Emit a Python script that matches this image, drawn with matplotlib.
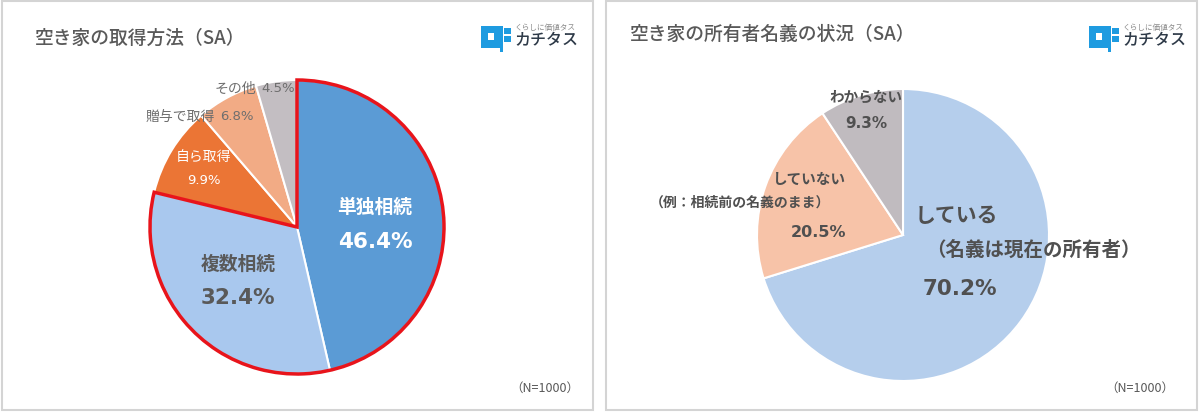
import matplotlib
matplotlib.use("Agg")
import matplotlib.pyplot as plt
from matplotlib.patches import Rectangle, Wedge

plt.rcParams['font.family'] = ['Noto Sans CJK JP', 'DejaVu Sans']
NUMFONT = ['DejaVu Sans', 'Noto Sans CJK JP']

# ---- data ----
left_title = "空き家の取得方法（SA）"
left_labels = ["単独相続", "複数相続", "自ら取得", "贈与で取得", "その他"]
left_values = [46.4, 32.4, 9.9, 6.8, 4.5]
left_colors = ["#5B9BD5", "#A9C8EE", "#EB7535", "#F2AB85", "#C3BEC2"]

right_title = "空き家の所有者名義の状況（SA）"
right_labels = ["している", "していない", "わからない"]
right_sub = ["（名義は現在の所有者）", "（例：相続前の名義のまま）", ""]
right_values = [70.2, 20.5, 9.3]
right_colors = ["#B5CEEC", "#F7C3A8", "#C0BBBF"]

n_note = "（N=1000）"

W, H = 1200, 414
fig = plt.figure(figsize=(W / 100, H / 100), dpi=100)
ax = fig.add_axes([0, 0, 1, 1])


def frame():
    ax.set_xlim(0, W)
    ax.set_ylim(0, H)
    ax.set_aspect('equal')
    ax.axis('off')


frame()


def Y(y):
    return H - y


# panels
for x0, x1 in [(2, 593), (606, 1197)]:
    ax.add_patch(Rectangle((x0, Y(411)), x1 - x0, 409, facecolor='white',
                           edgecolor='#D4D4D4', lw=1.5, zorder=0))

title_col = '#595959'
ax.text(35, Y(38), left_title, fontsize=13.5, color=title_col, va='center', ha='left', fontweight='medium')
ax.text(630, Y(34), right_title, fontsize=13.5, color=title_col, va='center', ha='left', fontweight='medium')


def logo(x, y):
    blue = '#1E9BE0'
    ax.add_patch(Rectangle((x, Y(y + 22)), 22, 22, facecolor=blue, edgecolor='none', zorder=3))
    ax.add_patch(Rectangle((x + 7, Y(y + 14)), 6, 7, facecolor='white', edgecolor='none', zorder=4))
    ax.add_patch(Rectangle((x + 23, Y(y + 16)), 7, 6, facecolor=blue, edgecolor='none', zorder=3))
    ax.add_patch(Rectangle((x + 23, Y(y + 8)), 7, 6, facecolor=blue, edgecolor='none', zorder=3))
    ax.add_patch(Rectangle((x + 19, Y(y + 26)), 3, 4, facecolor=blue, edgecolor='none', zorder=3))
    ax.text(x + 34, Y(y + 1), "くらしに価値タス", fontsize=5.5, color='#8A8A8A', va='center', ha='left')
    ax.text(x + 33, Y(y + 14), "カチタス", fontsize=11.5, color='#2E3A48', va='center', ha='left',
            fontweight='medium')


logo(481, 27)
logo(1089, 27)

# left pie
lc = (297, Y(228))
lr = 147
ax.pie(left_values, colors=left_colors, startangle=90, counterclock=False,
       center=lc, radius=lr, wedgeprops=dict(edgecolor='white', linewidth=1.5))
inh = left_values[0] + left_values[1]
tot = sum(left_values)
ax.add_patch(Wedge(lc, lr, 90 - 360 * inh / tot, 90, facecolor='none',
                   edgecolor='#E8141B', linewidth=2.5, zorder=5))
frame()

ax.text(375, Y(207), left_labels[0], fontsize=13.5, color='white', fontweight='bold', ha='center', va='center', zorder=6)
ax.text(375, Y(242), f"{left_values[0]}%", fontsize=15.5, color='white', fontweight='bold', ha='center', va='center', zorder=6, family=NUMFONT)
ax.text(238, Y(264), left_labels[1], fontsize=13.5, color='#595959', fontweight='bold', ha='center', va='center', zorder=6)
ax.text(238, Y(298), f"{left_values[1]}%", fontsize=15.5, color='#595959', fontweight='bold', ha='center', va='center', zorder=6, family=NUMFONT)
ax.text(204, Y(158), left_labels[2], fontsize=10, color='white', ha='center', va='center', zorder=6)
ax.text(204, Y(181), f"{left_values[2]}%", fontsize=9.5, color='white', ha='center', va='center', zorder=6, family=NUMFONT)
ax.text(215, Y(117), left_labels[3], fontsize=10, color='#6E6E6E', ha='right', va='center', zorder=6)
ax.text(220, Y(117), f"{left_values[3]}%", fontsize=9.5, color='#6E6E6E', ha='left', va='center', zorder=6, family=NUMFONT)
ax.text(256, Y(89), left_labels[4], fontsize=10, color='#6E6E6E', ha='right', va='center', zorder=6)
ax.text(261, Y(89), f"{left_values[4]}%", fontsize=9.5, color='#6E6E6E', ha='left', va='center', zorder=6, family=NUMFONT)

# right pie
rc = (903, Y(236))
rr = 146
ax.pie(right_values, colors=right_colors, startangle=90, counterclock=False,
       center=rc, radius=rr, wedgeprops=dict(edgecolor='white', linewidth=1.5))
frame()

dark = '#505050'
ax.text(956, Y(216), right_labels[0], fontsize=15, color=dark, fontweight='bold', ha='center', va='center', zorder=6)
ax.text(1033, Y(250), right_sub[0], fontsize=14, color=dark, fontweight='bold', ha='center', va='center', zorder=6)
ax.text(960, Y(289), f"{right_values[0]}%", fontsize=15.5, color=dark, fontweight='bold', ha='center', va='center', zorder=6, family=NUMFONT)
ax.text(810, Y(179), right_labels[1], fontsize=10.5, color=dark, fontweight='bold', ha='center', va='center', zorder=6)
ax.text(740, Y(203), right_sub[1], fontsize=10, color=dark, fontweight='bold', ha='center', va='center', zorder=6)
ax.text(818, Y(233), f"{right_values[1]}%", fontsize=11.5, color=dark, fontweight='bold', ha='center', va='center', zorder=6, family=NUMFONT)
ax.text(866, Y(97), right_labels[2], fontsize=10.5, color=dark, fontweight='bold', ha='center', va='center', zorder=6)
ax.text(866, Y(124), f"{right_values[2]}%", fontsize=11, color=dark, fontweight='bold', ha='center', va='center', zorder=6, family=NUMFONT)

ax.text(545, Y(388), n_note, fontsize=9, color='#595959', ha='center', va='center')
ax.text(1140, Y(388), n_note, fontsize=9, color='#595959', ha='center', va='center')

fig.savefig("out.png", dpi=100)
